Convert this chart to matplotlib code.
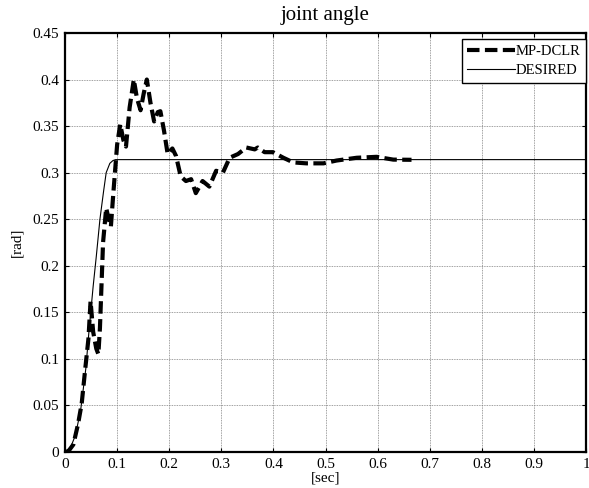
import matplotlib
matplotlib.use("Agg")
import matplotlib.pyplot as plt
import numpy as np

# DESIRED trajectory
t_des = [0, 0.01, 0.02, 0.03, 0.04, 0.046, 0.054, 0.06, 0.067, 0.074, 0.079, 0.086, 0.092, 0.097, 1.0]
y_des = [0, 0.004, 0.018, 0.045, 0.09, 0.13, 0.178, 0.21, 0.25, 0.28, 0.30, 0.31, 0.313, 0.314, 0.314]

# MP-DCLR response
t_mp = [0, 0.003, 0.008, 0.016, 0.025, 0.032, 0.038, 0.045, 0.049, 0.054, 0.06, 0.064, 0.067,
        0.073, 0.079, 0.083, 0.088, 0.093, 0.1, 0.106, 0.112, 0.117, 0.124, 0.132, 0.138,
        0.145, 0.151, 0.157, 0.164, 0.171, 0.178, 0.183, 0.19, 0.197, 0.206, 0.213, 0.222,
        0.232, 0.242, 0.251, 0.264, 0.277, 0.29, 0.303, 0.316, 0.332, 0.348, 0.364, 0.37,
        0.383, 0.399, 0.419, 0.438, 0.463, 0.496, 0.521, 0.56, 0.598, 0.63, 0.665]
y_mp = [0, 0, 0.002, 0.008, 0.03, 0.052, 0.085, 0.122, 0.162, 0.129, 0.111, 0.105, 0.133,
        0.225, 0.262, 0.252, 0.242, 0.28, 0.33, 0.352, 0.335, 0.328, 0.37, 0.40, 0.38,
        0.367, 0.385, 0.40, 0.375, 0.355, 0.365, 0.366, 0.345, 0.32, 0.326, 0.318, 0.296,
        0.291, 0.293, 0.278, 0.291, 0.285, 0.302, 0.30, 0.316, 0.32, 0.327, 0.325, 0.327,
        0.322, 0.322, 0.316, 0.311, 0.31, 0.31, 0.313, 0.316, 0.317, 0.314, 0.3138]

x_ticks = [0, 0.1, 0.2, 0.3, 0.4, 0.5, 0.6, 0.7, 0.8, 0.9, 1]
x_ticklabels = ["0", "0.1", "0.2", "0.3", "0.4", "0.5", "0.6", "0.7", "0.8", "0.9", "1"]
y_ticks = [0, 0.05, 0.1, 0.15, 0.2, 0.25, 0.3, 0.35, 0.4, 0.45]
y_ticklabels = ["0", "0.05", "0.1", "0.15", "0.2", "0.25", "0.3", "0.35", "0.4", "0.45"]

plt.rcParams['font.family'] = ['Liberation Serif', 'DejaVu Serif']

fig = plt.figure(figsize=(5.89, 4.88), dpi=100)
ax = fig.add_axes([0.1104, 0.0738, 0.8846, 0.8586])

ax.plot(t_mp, y_mp, color='black', linewidth=3.0, linestyle=(0, (3.0, 1.3)),
        label='MP-DCLR', zorder=3)
ax.plot(t_des, y_des, color='black', linewidth=0.8, label='DESIRED', zorder=2)

ax.set_xlim(0, 1)
ax.set_ylim(0, 0.45)
ax.set_xticks(x_ticks)
ax.set_xticklabels(x_ticklabels)
ax.set_yticks(y_ticks)
ax.set_yticklabels(y_ticklabels)
ax.tick_params(direction='in', length=3, width=0.8, labelsize=11, top=True, right=True, pad=4)
ax.grid(True, color='0.5', linestyle=(0, (1, 1)), linewidth=0.6)
for s in ax.spines.values():
    s.set_linewidth(1.6)

ax.set_title('joint angle', fontsize=15, pad=9)
ax.set_xlabel('[sec]', fontsize=11, labelpad=1)
ax.set_ylabel('[rad]', fontsize=11, labelpad=7)

leg = ax.legend(loc='upper right', bbox_to_anchor=(1.0, 0.985), fontsize=10.5,
                frameon=True, fancybox=False, edgecolor='black', framealpha=1,
                borderpad=0.4, labelspacing=0.4, handlelength=3.3, handletextpad=0.0,
                borderaxespad=0.0)
leg.get_frame().set_linewidth(1.0)

fig.savefig('out.png', dpi=100)
